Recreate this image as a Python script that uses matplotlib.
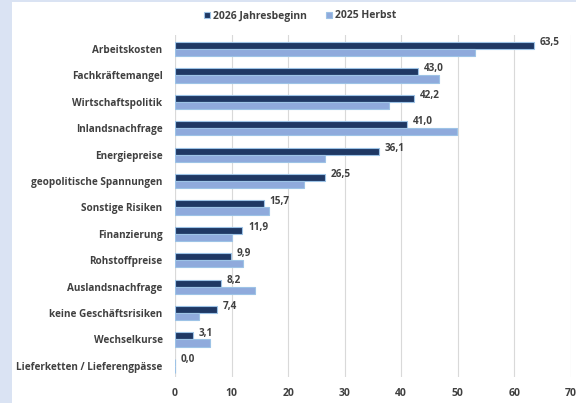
import matplotlib.pyplot as plt
import numpy as np

categories = ["Arbeitskosten", "Fachkräftemangel", "Wirtschaftspolitik", "Inlandsnachfrage",
              "Energiepreise", "geopolitische Spannungen", "Sonstige Risiken", "Finanzierung",
              "Rohstoffpreise", "Auslandsnachfrage", "keine Geschäftsrisiken", "Wechselkurse",
              "Lieferketten / Lieferengpässe"]
jahresbeginn_2026 = [63.5, 43.0, 42.2, 41.0, 36.1, 26.5, 15.7, 11.9, 9.9, 8.2, 7.4, 3.1, 0.0]
herbst_2025 = [53.0, 46.6, 37.8, 49.8, 26.5, 22.8, 16.6, 10.1, 12.0, 14.2, 4.2, 6.2, 0.0]

dark = "#1f3864"
light = "#8faadc"
edge = "#9dc3e6"
txt = "#404040"

plt.rcParams['font.family'] = ['Open Sans', 'DejaVu Sans']

fig = plt.figure(figsize=(5.76, 4.03), dpi=100)
fig.patch.set_facecolor("#dae3f3")
# white chart panel
panel = fig.add_axes([12 / 576, 0, 1 - 12 / 576, 1 - 2 / 403])
panel.set_facecolor("white")
panel.set_xticks([])
panel.set_yticks([])
for s in panel.spines.values():
    s.set_visible(False)

ax = fig.add_axes([175 / 576, 26 / 403, (571 - 175) / 576, (377 - 35) / 403])
ax.set_facecolor("none")
y = np.arange(len(categories))
h = 0.27
ax.barh(y - h / 2, jahresbeginn_2026, height=h, color=dark, edgecolor=edge, linewidth=0.8,
        label="2026 Jahresbeginn", zorder=3)
ax.barh(y + h / 2, herbst_2025, height=h, color=light, edgecolor=edge, linewidth=0.8,
        label="2025 Herbst", zorder=3)
for yi, v in zip(y, jahresbeginn_2026):
    ax.text(v + 1.0, yi - h * 0.9, f"{v:.1f}".replace(".", ","), fontsize=7.2, fontweight="bold",
            color=txt, va="center", ha="left")

ax.set_xlim(0, 70)
ax.set_ylim(len(categories) - 1 + 0.42, -0.53)
ax.set_xticks(range(0, 71, 10))
ax.set_yticks(y)
ax.set_yticklabels(categories, fontsize=7.2, fontweight="bold", color=txt)
ax.tick_params(axis="x", labelsize=7.5, colors=txt, length=0, pad=8)
ax.tick_params(axis="y", length=0, pad=9)
for lbl in ax.get_xticklabels():
    lbl.set_fontweight("bold")
ax.grid(axis="x", color="#d9d9d9", linewidth=0.8, zorder=0)
for s in ax.spines.values():
    s.set_visible(False)
ax.axvline(0, color="#d9d9d9", linewidth=0.8, zorder=1)

leg = fig.legend(loc="center", bbox_to_anchor=(300 / 576, 1 - 16 / 403), ncol=2, frameon=False,
                 fontsize=7.5, handlelength=0.6, handleheight=0.6, handletextpad=0.3, columnspacing=1.8)
for t in leg.get_texts():
    t.set_fontweight("bold")
    t.set_color(txt)

fig.savefig("out.png", dpi=100)
